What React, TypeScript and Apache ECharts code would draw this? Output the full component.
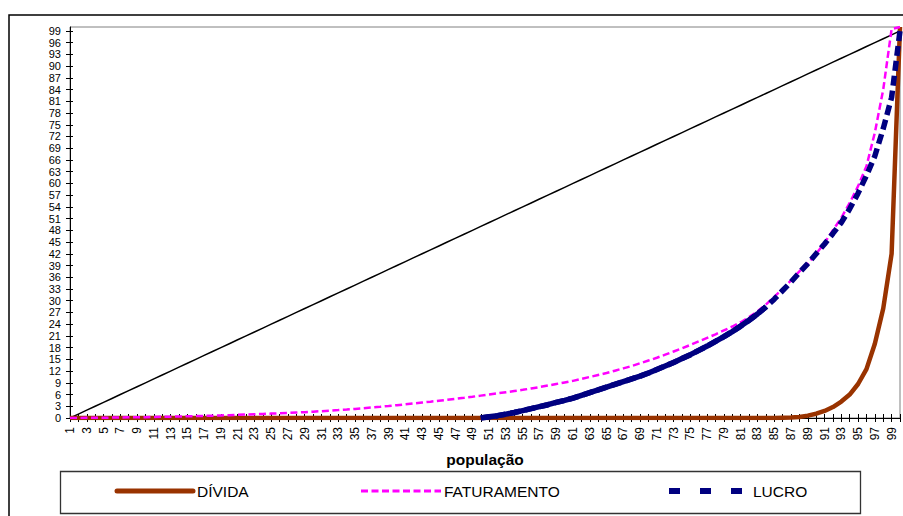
import React, { useEffect, useRef } from "react";
import * as echarts from "echarts";

const CATEGORIES = [
  "1","2","3","4","5","6","7","8","9","10",
  "11","12","13","14","15","16","17","18","19","20",
  "21","22","23","24","25","26","27","28","29","30",
  "31","32","33","34","35","36","37","38","39","40",
  "41","42","43","44","45","46","47","48","49","50",
  "51","52","53","54","55","56","57","58","59","60",
  "61","62","63","64","65","66","67","68","69","70",
  "71","72","73","74","75","76","77","78","79","80",
  "81","82","83","84","85","86","87","88","89","90",
  "91","92","93","94","95","96","97","98","99","100",
];

const Y_TICKS = [0,3,6,9,12,15,18,21,24,27,30,33,36,39,42,45,48,51,54,57,60,63,66,69,72,75,78,81,84,87,90,93,96,99];

const IGUALDADE = [
  0,1,2,3,4,5,6,7,8,9,
  10,11,12,13,14,15,16,17,18,19,
  20,21,22,23,24,25,26,27,28,29,
  30,31,32,33,34,35,36,37,38,39,
  40,41,42,43,44,45,46,47,48,49,
  50,51,52,53,54,55,56,57,58,59,
  60,61,62,63,64,65,66,67,68,69,
  70,71,72,73,74,75,76,77,78,79,
  80,81,82,83,84,85,86,87,88,89,
  90,91,92,93,94,95,96,97,98,99,
];

const DIVIDA = [
  0,0,0,0,0,0,0,0,0,0,
  0,0,0,0,0,0,0,0,0,0,
  0,0,0,0,0,0,0,0,0,0,
  0,0,0,0,0,0,0,0,0,0,
  0,0,0,0,0,0,0,0,0,0,
  0,0,0,0,0,0,0,0,0,0,
  0,0,0,0,0,0,0,0,0,0,
  0,0,0,0,0,0,0,0,0,0,
  0,0,0,0,0,0.05,0.1,0.25,0.6,1.1,
  1.8,2.8,4.2,6,8.7,12.5,19,28,42,100,
];

const FATURAMENTO = [
  0,0.02,0.04,0.06,0.08,0.1,0.13,0.16,0.19,0.22,
  0.26,0.3,0.34,0.38,0.43,0.48,0.54,0.6,0.66,0.73,
  0.8,0.88,0.96,1.04,1.12,1.2,1.3,1.4,1.5,1.62,
  1.75,1.88,2.02,2.17,2.33,2.5,2.68,2.87,3.07,3.28,
  3.5,3.72,3.95,4.18,4.42,4.66,4.91,5.17,5.44,5.72,
  6.0,6.3,6.6,6.9,7.2,7.55,7.9,8.3,8.7,9.1,
  9.5,10.0,10.5,11.0,11.5,12.1,12.7,13.3,14.0,14.7,
  15.4,16.2,17.0,17.8,18.7,19.6,20.5,21.4,22.4,23.4,
  24.5,25.8,27.3,29.0,31.0,33.0,35.2,37.5,39.5,42,
  44.8,48,51.2,55,59.3,64.4,73,84,99.5,100,
];

const LUCRO = [
  null,null,null,null,null,null,null,null,null,null,
  null,null,null,null,null,null,null,null,null,null,
  null,null,null,null,null,null,null,null,null,null,
  null,null,null,null,null,null,null,null,null,null,
  null,null,null,null,null,null,null,null,null,0,
  0.3,0.6,1.0,1.4,1.9,2.4,2.9,3.4,4.0,4.5,
  5.1,5.8,6.5,7.2,7.9,8.6,9.3,10.0,10.7,11.5,
  12.4,13.3,14.2,15.2,16.2,17.3,18.4,19.6,20.8,22.1,
  23.5,25.0,26.6,28.4,30.4,32.6,34.8,37.2,39.5,42,
  44.5,47.2,50,53.5,57.5,62,67,74,82,99,
];

const FONT = "'Liberation Sans', Arial, sans-serif";
const BROWN = "#993300";
const MAGENTA = "#FF00FF";
const NAVY = "#000080";

export default function App() {
  const ref = useRef<HTMLDivElement>(null);

  useEffect(() => {
    if (!ref.current) return;
    const chart = echarts.init(ref.current, null, { renderer: "svg" });
    const lucroSolid = LUCRO.map((v, i) => (i <= 83 ? v : null));
    const evenTicks = Y_TICKS.filter((_, i) => i % 2 === 0);
    const oddTicks = Y_TICKS.filter((_, i) => i % 2 === 1);
    const yBase = {
      type: "value",
      min: 0,
      max: 100,
      interval: 3,
      position: "left",
      splitLine: { show: false },
    };
    const yLabel = {
      showMinLabel: true,
      showMaxLabel: true,
      fontSize: 11,
      lineHeight: 10,
      margin: 9,
      color: "#000",
      fontFamily: FONT,
    };
    const option: any = {
      animation: false,
      textStyle: { fontFamily: FONT },
      grid: {
        left: 70,
        right: 3,
        top: 27,
        bottom: 98,
        show: true,
        borderColor: "#808080",
        borderWidth: 1,
        backgroundColor: "transparent",
      },
      xAxis: [
        {
          type: "category",
          data: CATEGORIES,
          boundaryGap: false,
          position: "bottom",
          axisLine: { lineStyle: { color: "#000", width: 1 } },
          axisTick: { interval: 0, length: 4, lineStyle: { color: "#000" } },
          axisLabel: {
            interval: 1,
            rotate: 90,
            fontSize: 12,
            color: "#000",
            fontFamily: FONT,
            margin: 9,
          },
          name: "população",
          nameLocation: "middle",
          nameGap: 33,
          nameTextStyle: { fontWeight: "bold", fontSize: 15.5, color: "#000", fontFamily: FONT },
        },
        {
          type: "category",
          data: CATEGORIES,
          boundaryGap: false,
          position: "bottom",
          axisLine: { show: false },
          axisTick: { inside: true, interval: 0, length: 4, lineStyle: { color: "#000" } },
          axisLabel: { show: false },
        },
      ],
      yAxis: [
        {
          ...yBase,
          axisLine: { show: true, lineStyle: { color: "#000" } },
          axisTick: { show: true, length: 4, customValues: Y_TICKS, lineStyle: { color: "#000" } },
          axisLabel: { ...yLabel, customValues: evenTicks },
        },
        {
          ...yBase,
          axisLine: { show: false },
          axisTick: { show: true, inside: true, length: 3, customValues: Y_TICKS, lineStyle: { color: "#000" } },
          axisLabel: { show: false },
        },
        {
          ...yBase,
          axisLine: { show: false },
          axisTick: { show: false },
          axisLabel: { ...yLabel, customValues: oddTicks },
        },
      ],
      series: [
        {
          type: "line",
          name: "igualdade",
          data: IGUALDADE,
          symbol: "none",
          lineStyle: { color: "#000", width: 1.5 },
          z: 2,
        },
        {
          type: "line",
          name: "DÍVIDA",
          data: DIVIDA,
          symbol: "none",
          lineStyle: { color: BROWN, width: 4.5 },
          z: 3,
        },
        {
          type: "line",
          name: "FATURAMENTO",
          data: FATURAMENTO,
          symbol: "none",
          lineStyle: { color: MAGENTA, width: 2.5, type: [7, 3.5] },
          z: 4,
        },
        {
          type: "line",
          name: "LUCRO",
          data: lucroSolid,
          symbol: "none",
          connectNulls: false,
          lineStyle: { color: NAVY, width: 5.5 },
          z: 5,
        },
        {
          type: "line",
          name: "LUCRO",
          data: LUCRO,
          symbol: "none",
          lineStyle: { color: NAVY, width: 5.5, type: [10, 5] },
          z: 5,
        },
      ],
      graphic: [
        {
          type: "rect",
          silent: true,
          shape: { x: 9, y: 15, width: 1200, height: 1200 },
          style: { fill: "none", stroke: "#000", lineWidth: 1.5 },
        },
        {
          type: "rect",
          silent: true,
          shape: { x: 60.5, y: 471.5, width: 800, height: 42 },
          style: { fill: "#fff", stroke: "#333", lineWidth: 1.3 },
        },
        {
          type: "line",
          silent: true,
          shape: { x1: 117, y1: 491, x2: 193, y2: 491 },
          style: { stroke: BROWN, lineWidth: 5, lineCap: "round" },
        },
        {
          type: "text",
          silent: true,
          x: 197,
          y: 491,
          style: { text: "DÍVIDA", fill: "#000", fontSize: 15.5, fontFamily: FONT, verticalAlign: "middle" },
        },
        {
          type: "line",
          silent: true,
          shape: { x1: 361, y1: 491, x2: 441, y2: 491 },
          style: { stroke: MAGENTA, lineWidth: 3, lineDash: [7, 3.5] },
        },
        {
          type: "text",
          silent: true,
          x: 444,
          y: 491,
          style: { text: "FATURAMENTO", fill: "#000", fontSize: 15.5, fontFamily: FONT, verticalAlign: "middle" },
        },
        {
          type: "line",
          silent: true,
          shape: { x1: 669, y1: 491, x2: 742, y2: 491 },
          style: { stroke: NAVY, lineWidth: 6, lineDash: [11, 20] },
        },
        {
          type: "text",
          silent: true,
          x: 753,
          y: 491,
          style: { text: "LUCRO", fill: "#000", fontSize: 15.5, fontFamily: FONT, verticalAlign: "middle" },
        },
      ],
    };
    chart.setOption(option);
    return () => chart.dispose();
  }, []);

  return (
    <div
      ref={ref}
      style={{ position: "fixed", left: 0, top: 0, width: 903, height: 516, background: "#fff" }}
    />
  );
}
